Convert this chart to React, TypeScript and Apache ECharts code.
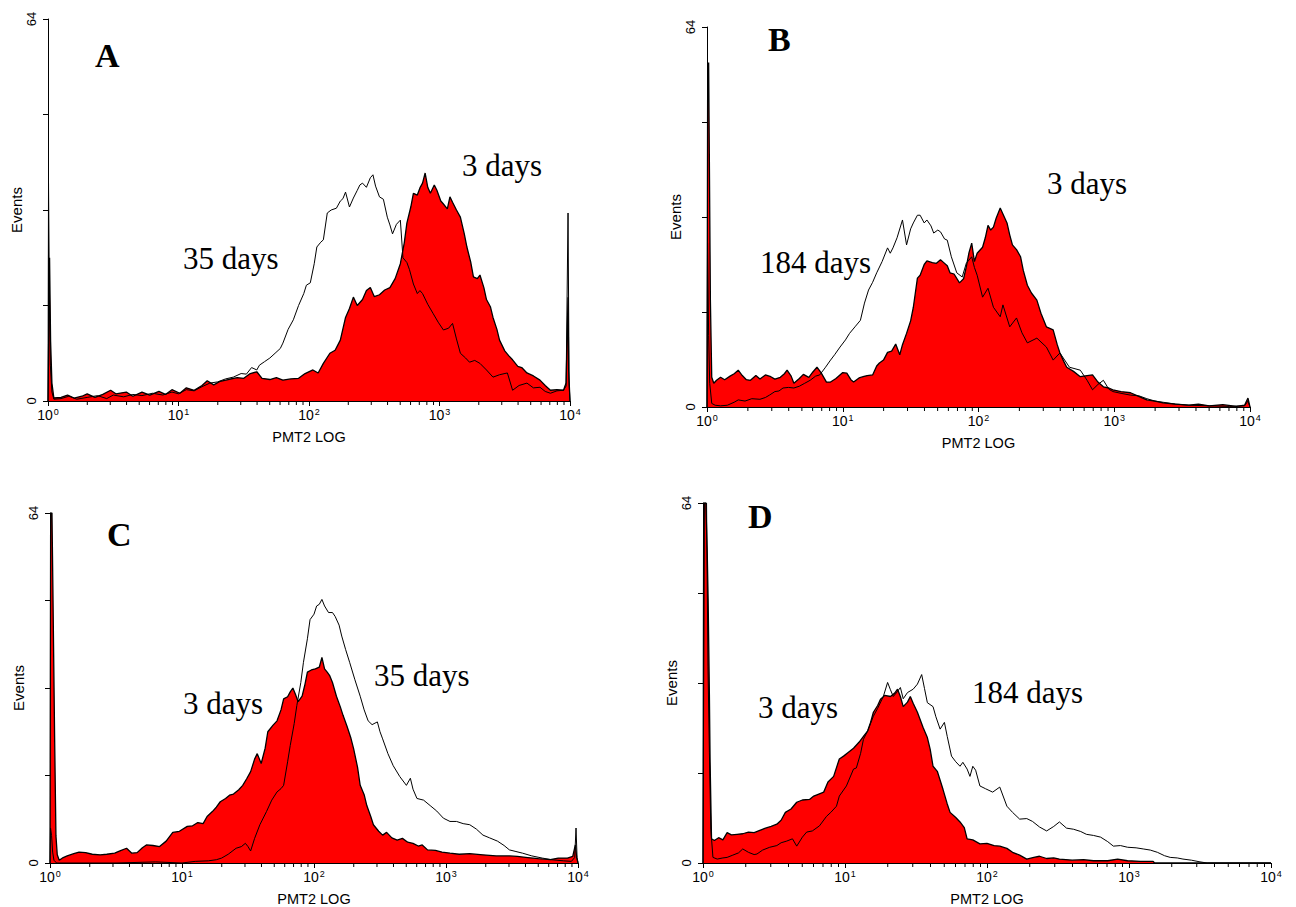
import React, { useEffect, useRef } from "react";
import * as echarts from "echarts";

// ---- data: [log10(PMT2), events] ----
const aRed = [[0,0],[0.005,10],[0.012,24],[0.02,10],[0.03,3],[0.045,0.5],[0.1,0.6],[0.15,1],[0.2,0.5],[0.26,0.8],[0.3,1.2],[0.36,0.6],[0.42,1.1],[0.48,1.8],[0.52,1.2],[0.6,1.5],[0.65,0.8],[0.72,1.5],[0.78,1.0],[0.85,1.6],[0.9,1.1],[0.95,1.9],[1.01,1.3],[1.06,2.2],[1.12,1.8],[1.18,2.6],[1.22,3.4],[1.27,2.7],[1.32,3.3],[1.38,3.6],[1.45,3.9],[1.5,3.8],[1.55,4.6],[1.6,4.9],[1.64,3.8],[1.7,3.6],[1.75,3.9],[1.8,3.5],[1.86,3.7],[1.92,3.8],[1.97,4.6],[2.03,5.2],[2.07,4.7],[2.11,6.3],[2.16,8],[2.2,8.5],[2.24,10.2],[2.28,14],[2.31,15.5],[2.34,17.4],[2.37,16],[2.41,17],[2.44,18.5],[2.47,19],[2.5,17.5],[2.54,17.8],[2.58,18.6],[2.62,19],[2.66,20.5],[2.7,23],[2.73,26.5],[2.75,29.8],[2.78,32.5],[2.8,34.8],[2.83,34.5],[2.85,35.7],[2.87,36.5],[2.89,38.2],[2.91,35.8],[2.93,34.8],[2.96,36.2],[2.98,35.3],[3.01,33.5],[3.03,33],[3.06,32.2],[3.08,34.2],[3.1,33.3],[3.13,32],[3.16,30.8],[3.19,28],[3.21,25.8],[3.24,23.2],[3.26,20.8],[3.29,20.5],[3.31,21.1],[3.34,19],[3.36,17],[3.39,15.8],[3.41,14],[3.44,12],[3.46,10.2],[3.5,8.4],[3.53,7.6],[3.56,6.9],[3.6,5.8],[3.63,5.6],[3.67,4.7],[3.72,4.2],[3.77,3.5],[3.81,2.6],[3.85,1.8],[3.9,1.9],[3.95,1.8],[3.97,3],[3.985,17.4],[3.99,5],[4,0]];
const aBlack = [[0,0],[0.004,36.5],[0.01,20],[0.018,6],[0.03,1.5],[0.045,0.3],[0.1,0.4],[0.16,0.8],[0.22,0.3],[0.3,0.6],[0.38,0.9],[0.45,0.4],[0.5,1.0],[0.58,0.7],[0.65,1.1],[0.72,0.9],[0.8,1.3],[0.88,1.0],[0.95,1.5],[1.0,1.2],[1.06,1.9],[1.12,1.7],[1.18,2.4],[1.24,3.0],[1.3,3.2],[1.36,3.7],[1.42,4.0],[1.48,4.6],[1.52,4.5],[1.56,5.6],[1.6,5.2],[1.62,6.0],[1.66,6.6],[1.7,7.2],[1.74,8],[1.78,8.8],[1.8,9.7],[1.84,12],[1.88,13.6],[1.92,16],[1.96,18],[1.98,19.4],[2.01,19.8],[2.04,23],[2.06,25.8],[2.09,26.6],[2.11,27],[2.14,31.5],[2.17,32],[2.21,32.3],[2.24,33.5],[2.26,33.9],[2.28,35],[2.31,32.5],[2.34,34],[2.37,35.3],[2.39,36.2],[2.41,36.5],[2.44,35.8],[2.47,37.4],[2.49,37.9],[2.51,36],[2.54,34.2],[2.57,33.8],[2.6,30.8],[2.62,29.5],[2.64,28],[2.67,29.6],[2.7,30.3],[2.72,24],[2.75,23.2],[2.77,22],[2.8,19.6],[2.83,18],[2.85,18.5],[2.87,18],[2.91,16.2],[2.95,14.7],[2.99,13.2],[3.03,11.9],[3.07,12.2],[3.1,13],[3.13,10.4],[3.16,8],[3.2,7.2],[3.23,6.5],[3.27,6.8],[3.31,6.3],[3.36,5.2],[3.41,4],[3.46,4.4],[3.52,4.7],[3.56,1.8],[3.61,2.6],[3.67,3],[3.72,2.2],[3.77,2.3],[3.81,1.6],[3.85,1.3],[3.9,1.7],[3.95,1.8],[3.97,2.5],[3.985,31.5],[3.993,3],[4,0]];

const bRed = [[0,0],[0.005,57],[0.012,58],[0.018,40],[0.025,18],[0.035,5],[0.05,4],[0.07,4.5],[0.1,5],[0.13,4.6],[0.17,5.2],[0.2,5.6],[0.23,6.2],[0.26,5.3],[0.29,4.6],[0.32,4.5],[0.36,5.3],[0.39,4.7],[0.43,5.4],[0.47,5.1],[0.5,4.7],[0.54,5.0],[0.57,5.6],[0.59,6.2],[0.62,5.2],[0.64,4.0],[0.68,4.8],[0.71,5.5],[0.75,5.0],[0.78,5.9],[0.81,6.7],[0.84,5.8],[0.88,4.2],[0.91,4.2],[0.95,4.8],[1.0,5.8],[1.03,5.7],[1.06,4.6],[1.08,4.2],[1.12,4.9],[1.15,5.1],[1.18,5.3],[1.22,5.4],[1.25,6.9],[1.27,7.4],[1.3,7.9],[1.33,9.2],[1.36,9.4],[1.39,10.6],[1.42,8.8],[1.44,10.5],[1.47,12.4],[1.5,14.5],[1.52,16.8],[1.55,21.7],[1.57,22.2],[1.6,24],[1.62,24.6],[1.66,24.3],[1.69,24.2],[1.72,24.8],[1.74,24.4],[1.77,23.8],[1.79,22.6],[1.82,22.4],[1.86,20.9],[1.89,21.6],[1.91,23.6],[1.93,26],[1.95,27.6],[1.97,24.5],[1.99,25.9],[2.01,26.4],[2.03,26.9],[2.05,28.5],[2.07,30.6],[2.09,29.8],[2.11,30.3],[2.13,31.8],[2.16,33.5],[2.18,32.5],[2.21,31],[2.23,29],[2.25,27.3],[2.28,26.5],[2.31,25.3],[2.33,23],[2.36,20.5],[2.39,19.2],[2.43,18],[2.46,15.8],[2.5,13.5],[2.55,13],[2.58,10.5],[2.6,9.1],[2.63,7.6],[2.65,6.7],[2.7,6.0],[2.75,5.1],[2.8,5.3],[2.84,5.4],[2.88,4.2],[2.92,3.4],[2.96,3.2],[2.99,2.9],[3.05,2.6],[3.12,2.4],[3.18,1.8],[3.24,1.2],[3.3,1.0],[3.36,0.7],[3.45,0.5],[3.55,0.3],[3.62,0.5],[3.7,0.2],[3.8,0.4],[3.9,0.1],[3.96,0.3],[3.985,1.5],[4,0]];
const bBlack = [[0,0],[0.004,27.6],[0.012,12],[0.02,4],[0.035,0.6],[0.06,0.3],[0.1,0.2],[0.15,0.3],[0.2,0.8],[0.23,1.2],[0.28,1.0],[0.33,1.4],[0.39,1.3],[0.43,1.6],[0.46,2.0],[0.5,2.6],[0.53,2.7],[0.56,3.2],[0.6,3.3],[0.64,3.2],[0.68,3.5],[0.72,4.0],[0.76,4.5],[0.8,5.2],[0.83,5.4],[0.87,6.6],[0.91,7.9],[0.94,8.8],[0.98,10.1],[1.02,11.3],[1.05,12.4],[1.09,13.5],[1.13,14.6],[1.16,17.5],[1.19,19.7],[1.22,21],[1.25,22.6],[1.29,24.5],[1.33,26.8],[1.35,25.9],[1.37,26.8],[1.4,28.5],[1.44,31.5],[1.47,27.3],[1.5,30],[1.52,31],[1.55,32.3],[1.57,32.3],[1.6,31],[1.62,31.5],[1.65,30.5],[1.67,29.3],[1.7,29.8],[1.72,29.5],[1.75,28.3],[1.77,28.1],[1.8,25.3],[1.84,22.6],[1.88,21.9],[1.91,24.2],[1.95,25.3],[1.97,23.5],[1.99,22.2],[2.03,18.5],[2.07,20],[2.11,16.8],[2.16,15.2],[2.18,17.2],[2.23,13.5],[2.28,15],[2.32,12.5],[2.36,10.8],[2.43,11.6],[2.5,10.1],[2.55,7.9],[2.6,9.1],[2.67,6.7],[2.75,6.2],[2.8,4.5],[2.84,2.9],[2.88,3.8],[2.92,4.5],[2.96,3.0],[2.99,2.6],[3.05,2.3],[3.12,2.0],[3.18,1.9],[3.24,1.4],[3.3,1.0],[3.36,0.8],[3.45,0.5],[3.55,0.3],[3.7,0.2],[3.85,0.1],[3.96,0.2],[3.985,1.0],[4,0]];

const cRed = [[0,0],[0.005,64],[0.015,64],[0.022,50],[0.035,23],[0.045,5],[0.055,1.5],[0.07,0.5],[0.1,1.0],[0.13,1.3],[0.18,1.7],[0.22,2.0],[0.27,1.9],[0.32,1.6],[0.38,1.5],[0.43,1.6],[0.49,1.8],[0.53,2.2],[0.58,2.7],[0.62,1.8],[0.66,1.9],[0.7,2.8],[0.73,3.3],[0.78,3.2],[0.83,3.0],[0.88,4.0],[0.93,5.6],[0.98,5.8],[1.04,6.7],[1.08,6.8],[1.12,7.4],[1.16,7.2],[1.19,8.5],[1.23,9.4],[1.26,10.2],[1.29,11.2],[1.33,11.8],[1.36,12.4],[1.39,12.6],[1.43,13.4],[1.46,14.2],[1.49,15.4],[1.52,16.7],[1.55,19],[1.57,20],[1.6,18.2],[1.63,21],[1.65,24],[1.69,25.2],[1.72,26],[1.75,28],[1.77,30],[1.8,30.4],[1.82,31.3],[1.84,32],[1.86,30.8],[1.88,29.5],[1.91,30.5],[1.93,32.5],[1.95,34.9],[1.98,35.3],[2.01,35.5],[2.04,35.8],[2.06,37.6],[2.08,35.5],[2.1,34.9],[2.12,34.2],[2.14,33],[2.17,30.5],[2.2,28.5],[2.22,27],[2.25,25],[2.28,22.8],[2.3,20.9],[2.33,17.5],[2.35,14.2],[2.38,12.5],[2.4,10.5],[2.43,8.5],[2.45,7],[2.49,5.8],[2.52,5.1],[2.55,5.6],[2.59,4.6],[2.63,4.2],[2.67,4.5],[2.71,3.8],[2.75,3.6],[2.79,3.1],[2.82,3.3],[2.86,2.4],[2.92,2.3],[2.97,2.0],[3.03,1.8],[3.1,1.6],[3.18,1.7],[3.28,1.5],[3.38,1.3],[3.48,1.3],[3.54,1.2],[3.62,1.0],[3.7,0.8],[3.79,0.6],[3.85,0.9],[3.92,0.9],[3.96,1.2],[3.98,3.3],[3.99,1],[4,0]];
const cBlack = [[0,0],[0.004,6.4],[0.012,5],[0.02,2],[0.03,0.5],[0.05,0],[0.5,0],[0.8,0.2],[1.0,0],[1.1,0.3],[1.2,0.4],[1.26,0.6],[1.3,0.9],[1.35,1.6],[1.41,2.7],[1.45,3.0],[1.48,3.6],[1.5,3.0],[1.52,2.2],[1.55,4.5],[1.59,7],[1.64,9.4],[1.68,11.5],[1.72,13],[1.75,13.6],[1.77,14.2],[1.8,18.5],[1.82,21.5],[1.85,25.5],[1.87,28.8],[1.9,33],[1.92,36.7],[1.95,41],[1.97,44.5],[2.0,45.5],[2.02,47],[2.04,47.3],[2.06,48.2],[2.08,47],[2.11,45.8],[2.14,45.8],[2.16,45.1],[2.19,43.5],[2.21,41.5],[2.24,39],[2.27,36.7],[2.31,33.5],[2.35,30.5],[2.38,28],[2.41,26],[2.44,25.3],[2.48,25.8],[2.5,24],[2.52,22.7],[2.56,20],[2.6,17.8],[2.65,15.8],[2.7,14.2],[2.73,15.5],[2.75,13.5],[2.78,11.8],[2.83,11.5],[2.88,10.5],[2.93,9.5],[2.98,8.2],[3.03,7.6],[3.08,7.6],[3.13,7.2],[3.18,7],[3.23,6.2],[3.28,5.1],[3.33,4.6],[3.39,4],[3.44,3.2],[3.48,2.4],[3.53,2.1],[3.58,1.8],[3.65,1.3],[3.73,0.9],[3.8,0.6],[3.89,0.4],[3.95,0.3],[3.975,1],[3.985,6.4],[3.993,1],[4,0]];

const dRed = [[0,0],[0.005,64],[0.02,64],[0.03,55],[0.036,47],[0.045,30],[0.05,18],[0.06,4.3],[0.08,4.0],[0.11,4.5],[0.14,4.1],[0.17,5.4],[0.2,5.0],[0.24,5.1],[0.28,5.2],[0.32,5.5],[0.36,5.4],[0.4,5.8],[0.44,6.2],[0.48,6.5],[0.52,6.9],[0.55,7.6],[0.58,9],[0.62,9.6],[0.66,10.8],[0.7,11.2],[0.75,11.3],[0.78,11.9],[0.82,12.3],[0.85,12.6],[0.88,14.4],[0.92,15.4],[0.96,18.5],[0.99,19],[1.02,19.6],[1.06,20.4],[1.1,21.5],[1.13,22.5],[1.16,23.5],[1.18,25],[1.2,26.8],[1.23,28],[1.25,29.1],[1.28,29.8],[1.32,29.6],[1.35,30.2],[1.37,30.9],[1.39,29.6],[1.41,27.8],[1.44,28.6],[1.46,29.6],[1.48,28.4],[1.51,26.8],[1.55,24.1],[1.58,22.3],[1.6,20.2],[1.62,17.2],[1.65,16.3],[1.69,13.1],[1.72,10.5],[1.74,9],[1.78,8.1],[1.81,7.3],[1.84,6.3],[1.86,4.3],[1.9,4.1],[1.95,3.4],[2.0,3.5],[2.05,3.1],[2.09,3.0],[2.14,2.6],[2.18,1.9],[2.23,1.4],[2.28,0.7],[2.33,1.0],[2.37,1.2],[2.42,0.8],[2.47,0.9],[2.51,0.7],[2.6,0.5],[2.68,0.6],[2.75,0.4],[2.85,0.4],[2.92,0.7],[2.99,0.4],[3.08,0.3],[3.17,0.3],[3.18,0],[4,0]];
const dBlack = [[0,0],[0.01,64],[0.025,64],[0.035,35],[0.045,19.7],[0.055,6],[0.07,1.0],[0.1,0.7],[0.14,0.9],[0.17,1.0],[0.21,1.4],[0.25,1.8],[0.28,2.5],[0.32,1.9],[0.36,1.5],[0.38,1.6],[0.42,2.3],[0.47,2.8],[0.52,3.1],[0.55,3.6],[0.59,3.9],[0.63,4.3],[0.66,3.0],[0.7,4.6],[0.73,5.5],[0.77,5.7],[0.82,6.6],[0.87,8.3],[0.9,9],[0.94,10.1],[0.96,11.9],[1.01,13.7],[1.06,16.7],[1.08,16.9],[1.11,19.5],[1.13,22],[1.16,23.5],[1.2,26.1],[1.23,27.5],[1.27,29.6],[1.3,32.1],[1.32,30.8],[1.34,29.6],[1.37,30.5],[1.39,31.2],[1.41,29.2],[1.44,30.3],[1.48,30.9],[1.51,31.8],[1.54,33.5],[1.56,31],[1.58,28.5],[1.62,27.8],[1.64,26],[1.67,23.8],[1.7,25],[1.72,22.5],[1.75,19],[1.78,18],[1.81,17.2],[1.83,17.9],[1.86,16.7],[1.88,15.4],[1.9,17.2],[1.92,16.5],[1.95,13.7],[1.99,13.2],[2.04,12.6],[2.09,13.5],[2.14,10.1],[2.18,9],[2.23,7.8],[2.28,7.9],[2.32,7.4],[2.37,6.4],[2.42,5.7],[2.47,6.5],[2.51,7.3],[2.56,6.2],[2.61,6],[2.66,5.6],[2.7,5.1],[2.75,4.9],[2.8,4.6],[2.85,3.8],[2.89,3],[2.94,3.1],[2.99,2.8],[3.05,2.7],[3.1,2.5],[3.15,2.3],[3.2,1.9],[3.25,1.3],[3.29,1],[3.34,0.9],[3.38,0.7],[3.44,0.5],[3.5,0.2],[3.55,0],[4,0]];

// axis ticks
const decades = [0, 1, 2, 3, 4];
const minorMultipliers = [2, 3, 4, 5, 6, 7, 8, 9];
const yMax = 64;
const yInterval = 16;
const yLabelValues = [0, 64];
const xAxisName = "PMT2 LOG";
const yAxisName = "Events";

// panel texts
const panelLetters = ["A", "B", "C", "D"];
const panelRedLabels = ["3 days", "3 days", "3 days", "3 days"];
const panelBlackLabels = ["35 days", "184 days", "35 days", "184 days"];

const panelData = [
  { red: aRed, black: aBlack },
  { red: bRed, black: bBlack },
  { red: cRed, black: cBlack },
  { red: dRed, black: dBlack },
];

// layout (pixels)
const grids = [
  { left: 48, top: 19, width: 522, height: 382 },
  { left: 707, top: 27, width: 543, height: 380 },
  { left: 50, top: 513, width: 528, height: 352 },
  { left: 703, top: 503, width: 568, height: 361 },
];
const letterPos = [[95, 66], [768, 50], [107, 545], [748, 527]];
const redLabelPos = [[462, 175], [1047, 193], [183, 713], [758, 717]];
const blackLabelPos = [[183, 268], [760, 272], [374, 685], [972, 702]];

const SANS = '"Liberation Sans", Arial, sans-serif';
const SERIF = '"Liberation Serif", "Times New Roman", serif';

export default function App() {
  const ref = useRef<HTMLDivElement>(null);
  useEffect(() => {
    if (!ref.current) return;
    const chart = echarts.init(ref.current, null, { renderer: "svg" });
    const minorTicks: number[][] = [];
    decades.slice(0, -1).forEach((d) => {
      minorMultipliers.forEach((m) => minorTicks.push([d + Math.log10(m), 0]));
    });

    const xAxes: any[] = [];
    const yAxes: any[] = [];
    const series: any[] = [];
    grids.forEach((g, i) => {
      xAxes.push({
        gridIndex: i,
        type: "value",
        min: 0,
        max: 4,
        interval: 1,
        name: xAxisName,
        nameLocation: "middle",
        nameGap: 28,
        nameTextStyle: { fontFamily: SANS, fontSize: 14.5, color: "#000" },
        axisLine: { show: true, onZero: false, lineStyle: { color: "#000", width: 1 } },
        axisTick: { show: true, length: 5, lineStyle: { color: "#000" } },
        splitLine: { show: false },
        axisLabel: {
          margin: 6,
          color: "#000",
          formatter: (v: number) => `{b|10}{s|${v}}`,
          rich: {
            b: { fontFamily: SANS, fontSize: 14, color: "#000" },
            s: { fontFamily: SANS, fontSize: 9, color: "#000", verticalAlign: "top", padding: [0, 0, 7, 1] },
          },
        },
      });
      yAxes.push({
        gridIndex: i,
        type: "value",
        min: 0,
        max: yMax,
        interval: yInterval,
        name: yAxisName,
        nameLocation: "middle",
        nameRotate: 90,
        nameGap: 21,
        nameTextStyle: { fontFamily: SANS, fontSize: 15, color: "#000" },
        axisLine: { show: true, lineStyle: { color: "#000", width: 1 } },
        axisTick: { show: true, length: 5, lineStyle: { color: "#000" } },
        splitLine: { show: false },
        axisLabel: {
          rotate: 90,
          margin: 10,
          fontFamily: SANS,
          fontSize: 13,
          color: "#000",
          formatter: (v: number) => (yLabelValues.includes(v) ? String(v) : ""),
        },
      });
      const pd = panelData[i];
      series.push({
        type: "line",
        xAxisIndex: i,
        yAxisIndex: i,
        data: pd.red,
        symbol: "none",
        lineStyle: { color: "#000", width: 1.3 },
        areaStyle: { color: "#ff0000", opacity: 1 },
        z: 2,
      });
      series.push({
        type: "line",
        xAxisIndex: i,
        yAxisIndex: i,
        data: pd.black,
        symbol: "none",
        lineStyle: { color: "#000", width: 1 },
        z: 3,
      });
      series.push({
        type: "custom",
        xAxisIndex: i,
        yAxisIndex: i,
        data: minorTicks,
        silent: true,
        z: 4,
        renderItem: (_p: any, api: any) => {
          const c = api.coord([api.value(0), 0]);
          return {
            type: "line",
            shape: { x1: c[0], y1: c[1], x2: c[0], y2: c[1] + 4 },
            style: { stroke: "#000", lineWidth: 1 },
          };
        },
      });
    });

    const graphic: any[] = [];
    panelLetters.forEach((t, i) => {
      graphic.push({
        type: "text",
        x: letterPos[i][0],
        y: letterPos[i][1] - 11,
        style: { text: t, font: `bold 34px ${SERIF}`, fill: "#000", align: "left", verticalAlign: "middle" },
      });
      graphic.push({
        type: "text",
        x: redLabelPos[i][0],
        y: redLabelPos[i][1] - 10,
        style: { text: panelRedLabels[i], font: `31px ${SERIF}`, fill: "#000", align: "left", verticalAlign: "middle" },
      });
      graphic.push({
        type: "text",
        x: blackLabelPos[i][0],
        y: blackLabelPos[i][1] - 10,
        style: { text: panelBlackLabels[i], font: `31px ${SERIF}`, fill: "#000", align: "left", verticalAlign: "middle" },
      });
    });

    chart.setOption({
      animation: false,
      backgroundColor: "#fff",
      grid: grids.map((g) => ({ ...g, containLabel: false })),
      xAxis: xAxes,
      yAxis: yAxes,
      series,
      graphic,
    });
    return () => chart.dispose();
  }, []);
  return (
    <div
      ref={ref}
      style={{ position: "fixed", left: 0, top: 0, width: 1296, height: 907, background: "#fff" }}
    />
  );
}
